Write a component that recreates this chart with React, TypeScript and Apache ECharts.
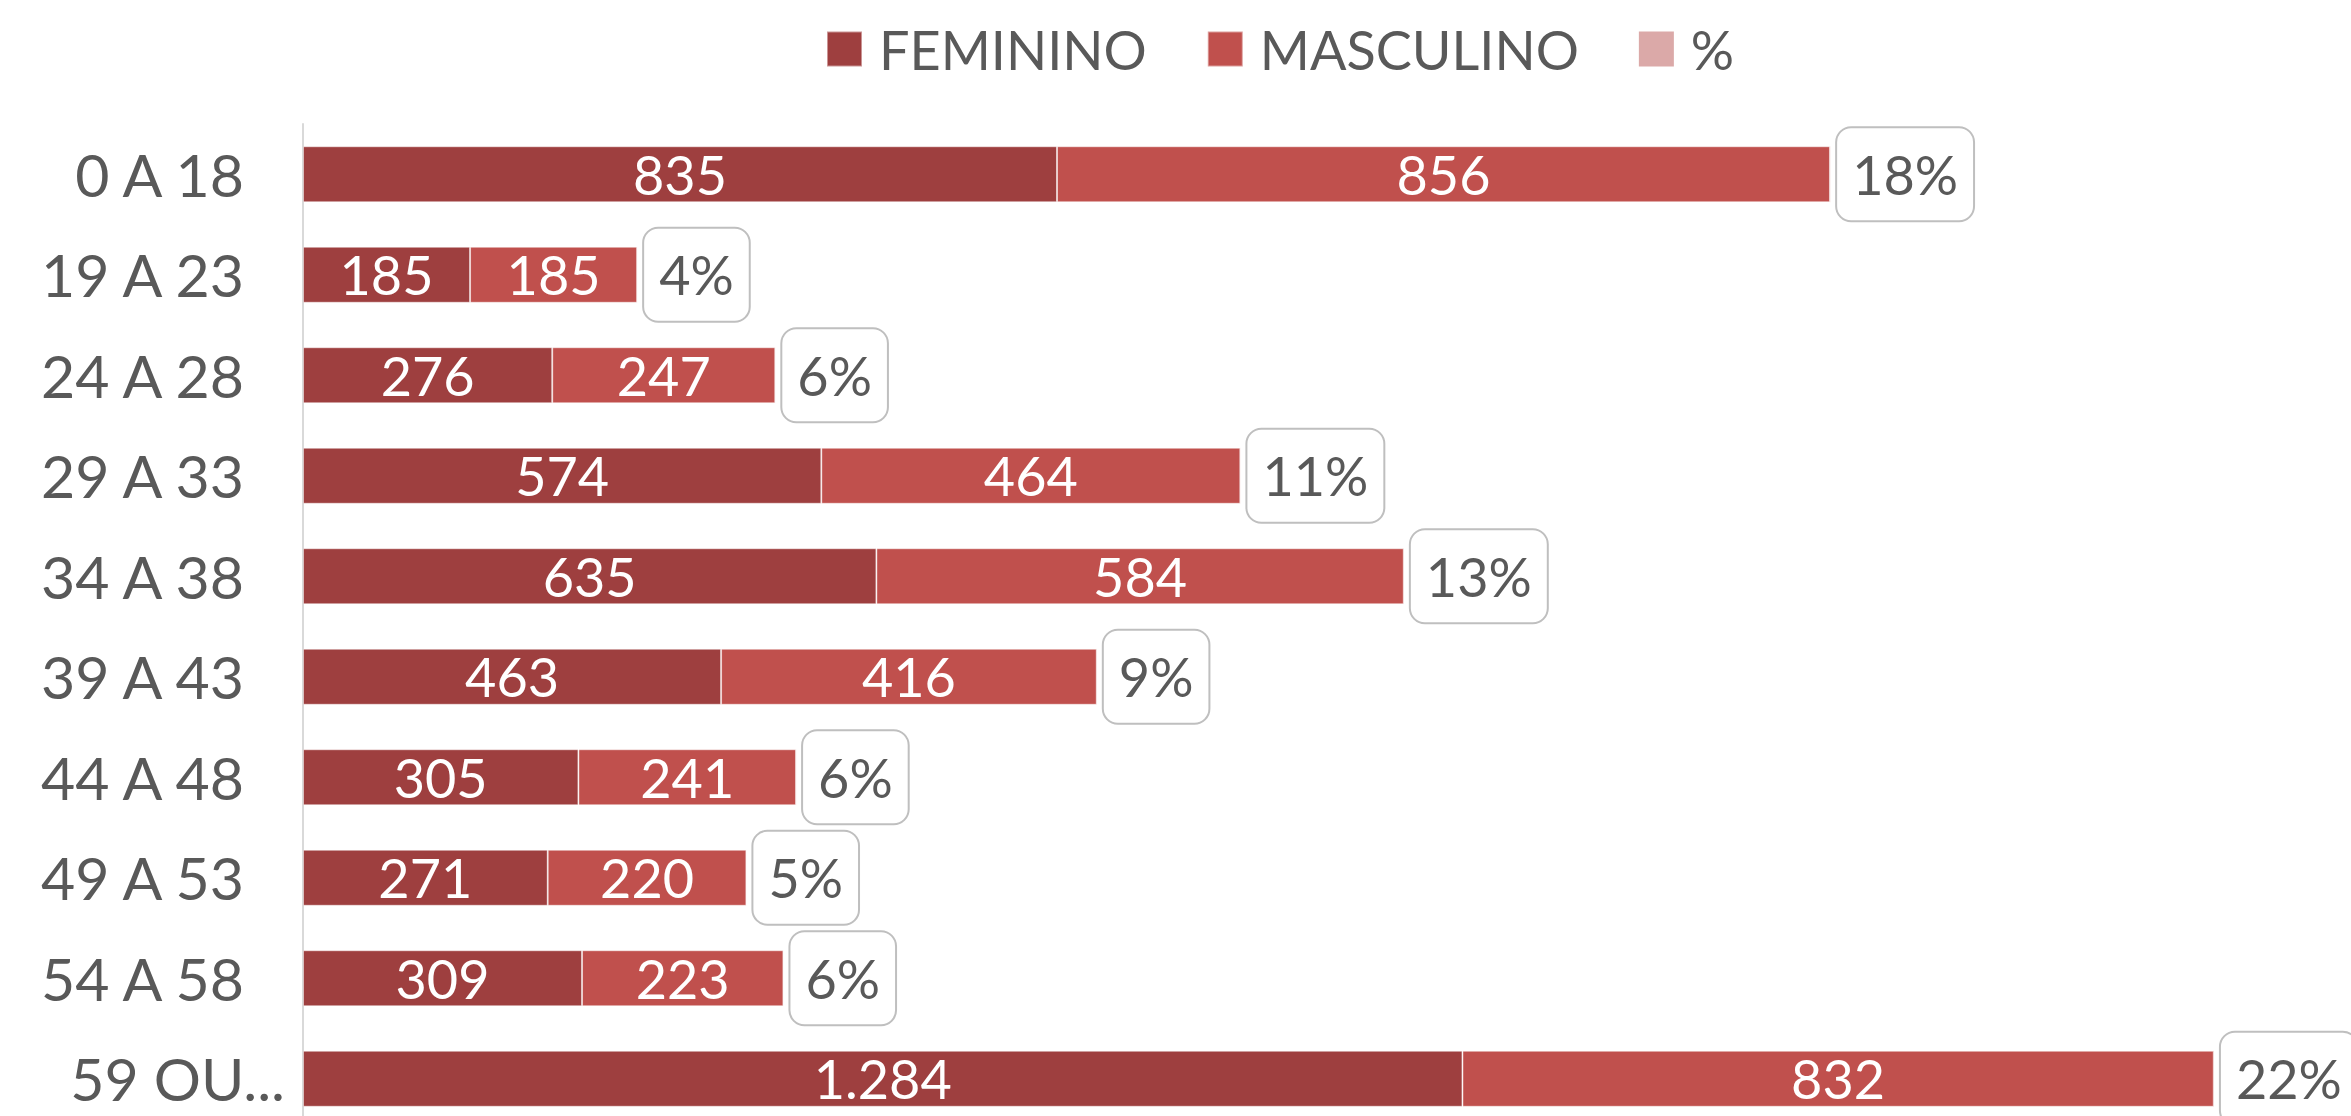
import React, { useEffect, useRef } from "react";
import * as echarts from "echarts";

const categories = ["0 A 18", "19 A 23", "24 A 28", "29 A 33", "34 A 38", "39 A 43", "44 A 48", "49 A 53", "54 A 58", "59 OU..."];
const feminino = [835, 185, 276, 574, 635, 463, 305, 271, 309, 1284];
const masculino = [856, 185, 247, 464, 584, 416, 241, 220, 223, 832];
const percent = [0.18, 0.04, 0.06, 0.11, 0.13, 0.09, 0.06, 0.05, 0.06, 0.22];

const FONT = "Lato, 'Open Sans', sans-serif";
const fmt = (v: number) => String(v).replace(/\B(?=(\d{3})+(?!\d))/g, ".");

export default function App() {
  const ref = useRef<HTMLDivElement>(null);
  useEffect(() => {
    if (!ref.current) return;
    const chart = echarts.init(ref.current, undefined, { renderer: "svg" });
    const valueLabel = {
      show: true,
      position: "inside",
      color: "#FFFFFF",
      fontFamily: FONT,
      fontSize: 54,
      formatter: (p: any) => fmt(p.value),
    };
    chart.setOption({
      animation: false,
      backgroundColor: "#FFFFFF",
      legend: {
        top: 17,
        left: 821,
        itemWidth: 35,
        itemHeight: 35,
        itemGap: 60,
        icon: "rect",
        textStyle: { color: "#595959", fontFamily: FONT, fontSize: 54, padding: [0, 0, 0, 12] },
        data: ["FEMININO", "MASCULINO", "%"],
      },
      grid: { left: 303, top: 124, width: 2048, height: 1005, containLabel: false, outerBoundsMode: "none" },
      xAxis: {
        type: "value",
        min: 0,
        max: 2268,
        show: false,
        splitLine: { show: false },
      },
      yAxis: {
        type: "category",
        inverse: true,
        data: categories,
        axisLine: { show: true, lineStyle: { color: "#D9D9D9", width: 2 } },
        axisTick: { show: false },
        axisLabel: {
          margin: 18,
          color: "#595959",
          fontFamily: FONT,
          fontSize: 59,
          formatter: (v: string, i: number) => (i === categories.length - 1 ? `{b|${v}}` : `{a|${v}}`),
          rich: {
            a: { color: "#595959", fontFamily: FONT, fontSize: 59, padding: [0, 41, 0, 0] },
            b: { color: "#595959", fontFamily: FONT, fontSize: 59 },
          },
        },
      },
      series: [
        {
          name: "FEMININO",
          type: "bar",
          stack: "t",
          barWidth: 56,
          data: feminino,
          itemStyle: { color: "#9E3F3F", borderColor: "rgba(255,255,255,0.45)", borderWidth: 1 },
          label: valueLabel,
        },
        {
          name: "MASCULINO",
          type: "bar",
          stack: "t",
          barWidth: 56,
          data: masculino,
          itemStyle: { color: "#C0504D", borderColor: "rgba(255,255,255,0.45)", borderWidth: 1 },
          label: valueLabel,
        },
        {
          name: "%",
          type: "bar",
          stack: "t",
          barWidth: 56,
          data: percent,
          itemStyle: { color: "#DBA9A8" },
          label: {
            show: true,
            position: "right",
            distance: 7,
            color: "#595959",
            fontFamily: FONT,
            fontSize: 54,
            backgroundColor: "#FFFFFF",
            borderColor: "#BFBFBF",
            borderWidth: 2,
            borderRadius: 14,
            padding: [19, 15, 19, 15],
            formatter: (p: any) => Math.round(p.value * 100) + "%",
          },
        },
      ],
    });
    return () => chart.dispose();
  }, []);
  return <div ref={ref} style={{ position: "fixed", left: 0, top: 0, width: 2351, height: 1116 }} />;
}
